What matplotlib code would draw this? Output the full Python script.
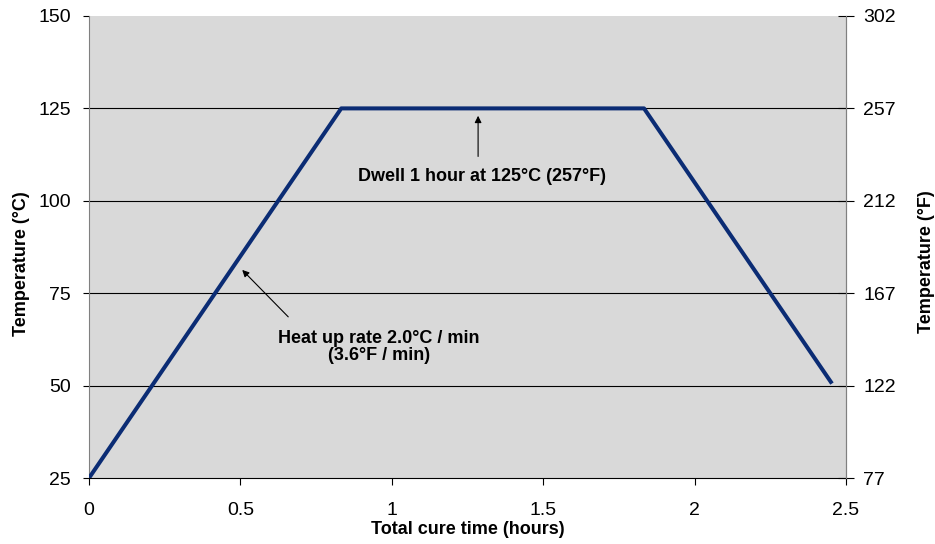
import matplotlib.pyplot as plt

plt.rcParams['font.family'] = ['Liberation Sans', 'DejaVu Sans']

# cure profile (hours, deg C)
time_h = [0, 0.833, 1.833, 2.45]
temp_c = [25, 125, 125, 51]

c_ticks = [25, 50, 75, 100, 125, 150]
f_labels = ['77', '122', '167', '212', '257', '302']
x_ticks = [0, 0.5, 1, 1.5, 2, 2.5]

fig = plt.figure(figsize=(9.35, 5.44), dpi=100)
ax = fig.add_axes([0.0952, 0.1213, 0.8096, 0.8493])
ax.set_facecolor('#D9D9D9')

for t in c_ticks[1:-1]:
    ax.axhline(t, color='black', lw=0.8, zorder=1)

ax.plot(time_h, temp_c, color='#0B2C74', lw=2.9, zorder=3, solid_joinstyle='round')

ax.set_xlim(0, 2.5)
ax.set_ylim(25, 150)
ax.set_xticks(x_ticks)
ax.set_xticklabels(['0', '0.5', '1', '1.5', '2', '2.5'])
ax.set_yticks(c_ticks)
ax.tick_params(axis='y', labelsize=14, length=4, width=0.8, direction='out', pad=9)
ax.tick_params(axis='x', labelsize=14, length=5, width=0.8, direction='out', pad=12)

ax.spines['top'].set_visible(False)
ax.spines['left'].set_color('#808080')
ax.spines['right'].set_color('#808080')
ax.spines['bottom'].set_color('black')

ax.set_xlabel('Total cure time (hours)', fontsize=13, fontweight='bold', labelpad=2)
ax.set_ylabel('Temperature (°C)', fontsize=13, fontweight='bold', labelpad=6)
ax.yaxis.label.set_y(0.464)

ax2 = ax.twinx()
ax2.set_ylim(25, 150)
ax2.set_yticks(c_ticks)
ax2.set_yticklabels(f_labels)
ax2.tick_params(labelsize=14, length=11, width=0.8, direction='inout', pad=7)
ax2.spines['top'].set_visible(False)
ax2.spines['right'].set_color('#808080')
ax2.spines['left'].set_visible(False)
ax2.spines['bottom'].set_visible(False)
ax2.set_ylabel('Temperature (°F)', fontsize=13, fontweight='bold', labelpad=16)
ax2.yaxis.label.set_y(0.468)

arrow = dict(arrowstyle='-|>', color='black', lw=0.8, shrinkA=0, shrinkB=0, mutation_scale=10)

ax.text(1.297, 106.5, 'Dwell 1 hour at 125°C (257°F)', ha='center', va='center',
        fontsize=13, fontweight='bold')
ax.annotate('', xy=(1.285, 123), xytext=(1.285, 112), arrowprops=arrow)

ax.text(0.958, 60.4, 'Heat up rate 2.0°C / min\n(3.6°F / min)', ha='center', va='center',
        fontsize=13, fontweight='bold', linespacing=1.05)
ax.annotate('', xy=(0.506, 81.3), xytext=(0.658, 68.6), arrowprops=arrow)

fig.savefig('out.png', dpi=100)
